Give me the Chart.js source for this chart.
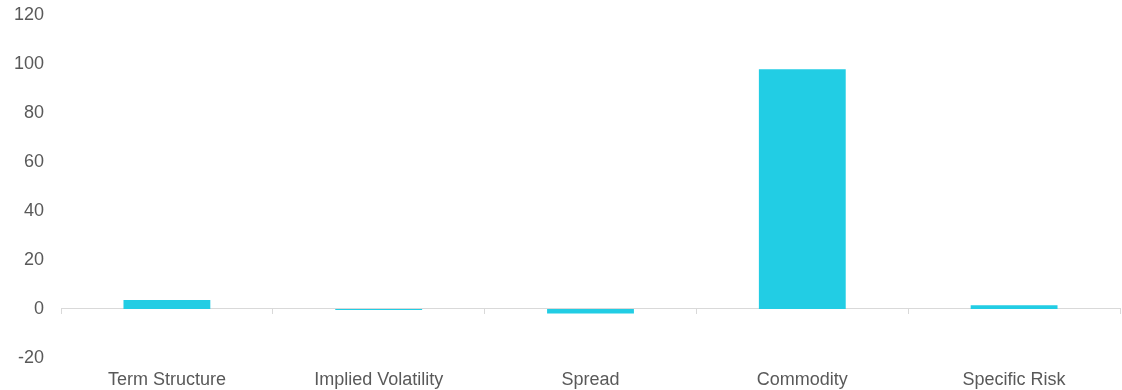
<!DOCTYPE html>
<html>
<head>
<meta charset="utf-8">
<script src="https://cdn.jsdelivr.net/npm/chart.js@4.4.1/dist/chart.umd.min.js"></script>
<style>
  html, body { margin: 0; padding: 0; background: #ffffff; }
  #wrap { width: 1122px; height: 390px; position: relative; }
</style>
</head>
<body>
<div id="wrap"><canvas id="chart"></canvas></div>
<script>
// Contribution by factor
const categories = ['Term Structure', 'Implied Volatility', 'Spread', 'Commodity', 'Specific Risk'];
const values = [3.7, -0.4, -1.8, 98.0, 1.5];
const yTicks = [-20, 0, 20, 40, 60, 80, 100, 120];

const barColor = '#22cde4';
const axisColor = '#d9d9d9';
const textColor = '#595959';
const fontFamily = '"Liberation Sans", Arial, sans-serif';

function noPadding(scale) {
  scale.paddingTop = 0;
  scale.paddingBottom = 0;
}

new Chart(document.getElementById('chart'), {
  type: 'bar',
  data: {
    labels: categories,
    datasets: [{
      data: values,
      backgroundColor: barColor,
      borderWidth: 0,
      categoryPercentage: 1,
      barPercentage: 0.41,
      xAxisID: 'x',
      yAxisID: 'y'
    }]
  },
  options: {
    responsive: true,
    maintainAspectRatio: false,
    animation: false,
    layout: { padding: { top: 15.5, right: 2, bottom: -11.5, left: 0 } },
    plugins: { legend: { display: false }, tooltip: { enabled: false } },
    scales: {
      // zero line with category separators
      x: {
        type: 'category',
        axis: 'x',
        position: { y: 0 },
        offset: true,
        afterFit: (scale) => { scale.height = 0; noPadding(scale); },
        ticks: { display: false },
        grid: { display: true, offset: true, drawOnChartArea: false, drawTicks: true, tickLength: 5, color: axisColor, lineWidth: 1 },
        border: { display: true, color: axisColor, width: 1 }
      },
      // category names along the bottom
      x2: {
        type: 'category',
        axis: 'x',
        position: 'bottom',
        offset: true,
        afterFit: noPadding,
        grid: { display: false, drawTicks: false },
        border: { display: false },
        ticks: { color: textColor, font: { family: fontFamily, size: 18 }, padding: 11, maxRotation: 0, autoSkip: false }
      },
      y: {
        min: -20,
        max: 120,
        afterFit: (scale) => { scale.width = 61; noPadding(scale); },
        afterBuildTicks: (scale) => { scale.ticks = yTicks.map(v => ({ value: v })); },
        grid: { display: false, drawTicks: false },
        border: { display: false },
        ticks: { color: textColor, font: { family: fontFamily, size: 18 }, padding: 17 }
      }
    }
  }
});
</script>
</body>
</html>
